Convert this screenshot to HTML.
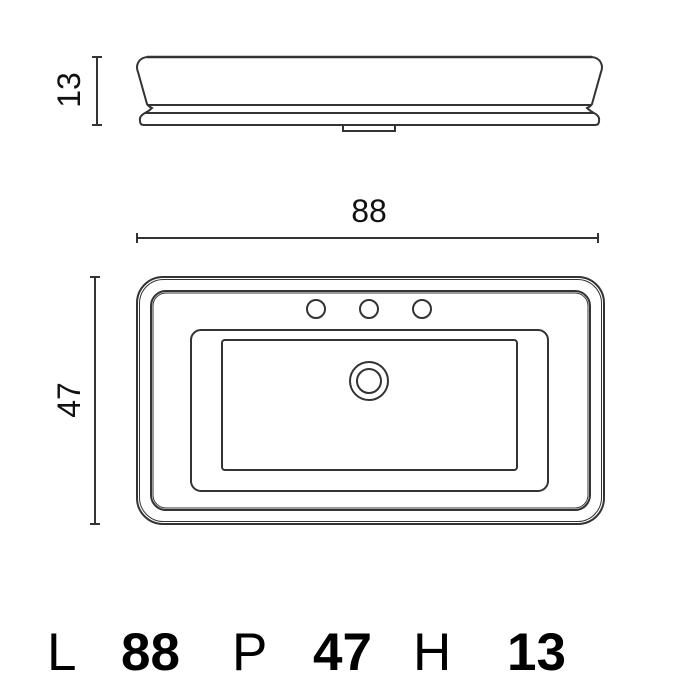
<!DOCTYPE html>
<html><head><style>body{margin:0;background:#fff}svg{display:block}</style></head><body>
<svg width="700" height="700" viewBox="0 0 700 700" xmlns="http://www.w3.org/2000/svg" font-family="Liberation Sans, sans-serif">
<g fill="none" stroke="#333" stroke-width="2">
<!-- side view -->
<line x1="97" y1="57" x2="97" y2="125"/><line x1="92" y1="57" x2="102" y2="57"/><line x1="92" y1="125" x2="102" y2="125"/>
<path d="M147 57 H592" stroke-width="2.5"/>
<path d="M147 57 Q140 58 138 63 Q136 67 138 72 L147 104 Q148 106 152 108 Q149 111 145 113 Q139 116 140 121 Q140 125 144 125 H595 Q599 125 599 121 Q600 116 594 113 Q590 111 587 108 Q591 106 592 104 L601 72 Q603 67 601 63 Q599 58 592 57"/>
<line x1="147" y1="105" x2="592" y2="105"/>
<line x1="145" y1="113" x2="594" y2="113"/>
<path d="M343 125 V131 H395 V125"/>
<!-- width dim -->
<line x1="137" y1="238" x2="598" y2="238"/><line x1="137" y1="233" x2="137" y2="243"/><line x1="598" y1="233" x2="598" y2="243"/>
<!-- height dim -->
<line x1="95" y1="277" x2="95" y2="524"/><line x1="90" y1="277" x2="100" y2="277"/><line x1="90" y1="524" x2="100" y2="524"/>
<!-- top view -->
<rect x="137" y="277" width="467" height="247" rx="26"/>
<rect x="139.5" y="279.5" width="462" height="242" rx="24" stroke-width="1"/>
<rect x="151" y="291" width="439" height="219" rx="15"/>
<rect x="153" y="293" width="435" height="215" rx="13" stroke-width="1"/>
<rect x="191" y="330" width="357" height="161" rx="10"/>
<rect x="222" y="340" width="295" height="130" rx="3"/>
<circle cx="316" cy="309" r="9"/><circle cx="369" cy="309" r="9"/><circle cx="422" cy="309" r="9"/>
<circle cx="369" cy="381" r="19"/><circle cx="369" cy="381" r="12"/>
</g>
<g fill="#111" font-size="32">
<text x="369" y="222" text-anchor="middle">88</text>
<text transform="translate(80,90) rotate(-90)" text-anchor="middle">13</text>
<text transform="translate(80,400) rotate(-90)" text-anchor="middle">47</text>
</g>
<g fill="#000" font-size="53">
<text x="47" y="670">L</text>
<text x="121" y="670" font-weight="bold">88</text>
<text x="232" y="670">P</text>
<text x="313" y="670" font-weight="bold">47</text>
<text x="413" y="670">H</text>
<text x="507" y="670" font-weight="bold">13</text>
</g>
</svg>
</body></html>
